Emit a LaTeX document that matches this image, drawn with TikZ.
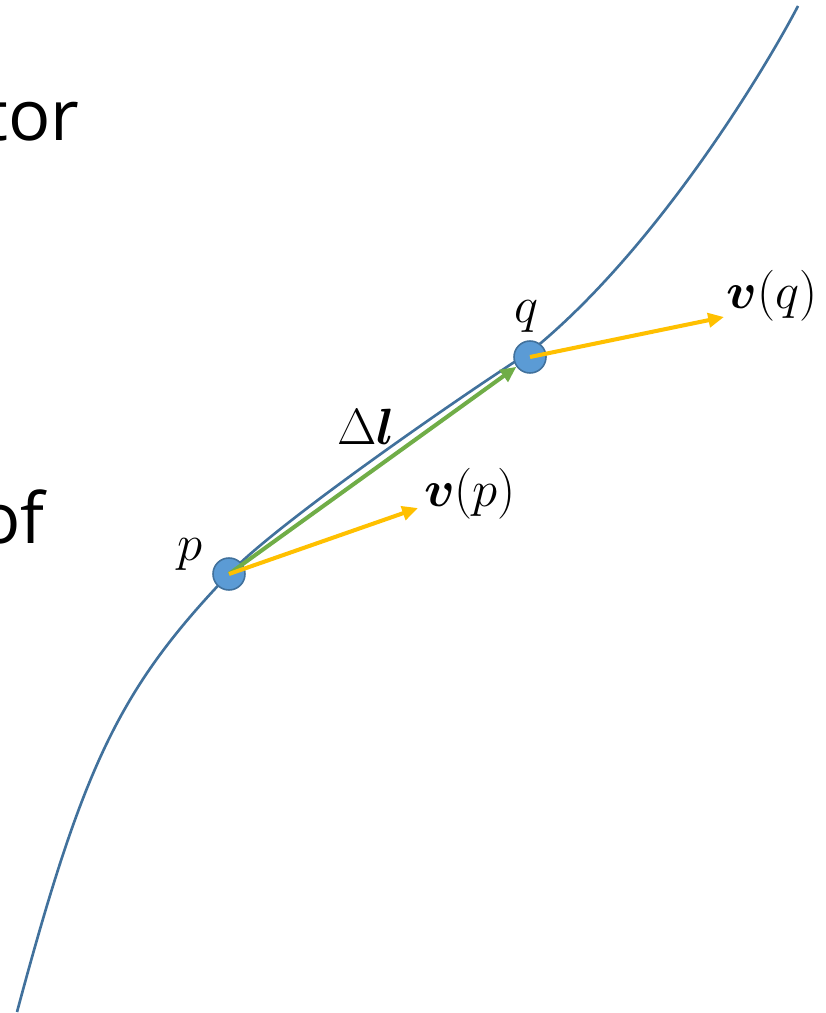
\RequirePackage{fix-cm}
\documentclass[tikz,border=0pt]{standalone}
\usepackage{amsmath}
\usepackage{bm}
\usepackage{fontspec}
\newfontfamily\fragfont{Open Sans}
\usepackage{tikz}
\usetikzlibrary{arrows.meta, backgrounds}
\definecolor{curveblue}{RGB}{65,113,156}
\definecolor{dotblue}{RGB}{91,155,213}
\definecolor{vecyellow}{RGB}{255,192,0}
\definecolor{dlgreen}{RGB}{112,173,71}

\begin{document}
\begin{tikzpicture}[x=0.02cm, y=-0.02cm]
    \tikzset{dot/.style={circle, draw=curveblue, fill=dotblue, line width=0.9pt,
                         minimum size=0.64cm, inner sep=0pt},
             lbl/.style={font=\fontsize{29}{32}\selectfont, inner sep=0pt, anchor=base},
             word/.style={font=\fragfont\fontsize{40}{44}\selectfont, inner sep=0pt,
                          anchor=base east},
             vec/.style={-{Triangle[length=9pt,width=8pt]}, line width=2.3pt}}
    \clip (0,0) rectangle (825,1013);
    \node[word] (tor) at (80,141) {tor};
    \node[word] (of)  at (45,543) {of};
    \node[dot] (p) at (229,574) {};
    \node[dot] (q) at (530,357) {};
    \coordinate (bottom) at (17,1012);
    \coordinate (top) at (798,6);
    \begin{scope}[on background layer]
      \draw[curveblue, line width=1.5pt] (bottom) .. controls (83,766) and (119,689) .. (p.center)
        .. controls (280,520) and (485,380) .. (530,352)
        .. controls (660,247) and (770,60) .. (top);
    \end{scope}
    \coordinate (vp) at (418,508);
    \coordinate (vq) at (724,317);
    \draw[vec, dlgreen] (p.center) -- (q);
    \foreach \a/\b in {p/vp, q/vq}
      \draw[vec, vecyellow] (\a.center) -- (\b);
    \node[lbl] (plbl)  at (190,560) {$p$};
    \node[lbl] (qlbl)  at (526,322) {$q$};
    \node[lbl] (dl)    at (366,444) {$\Delta\bm{l}$};
    \node[lbl] (vplbl) at (470,506) {$\bm{v}(p)$};
    \node[lbl] (vqlbl) at (772,308) {$\bm{v}(q)$};
  \end{tikzpicture}
\end{document}
